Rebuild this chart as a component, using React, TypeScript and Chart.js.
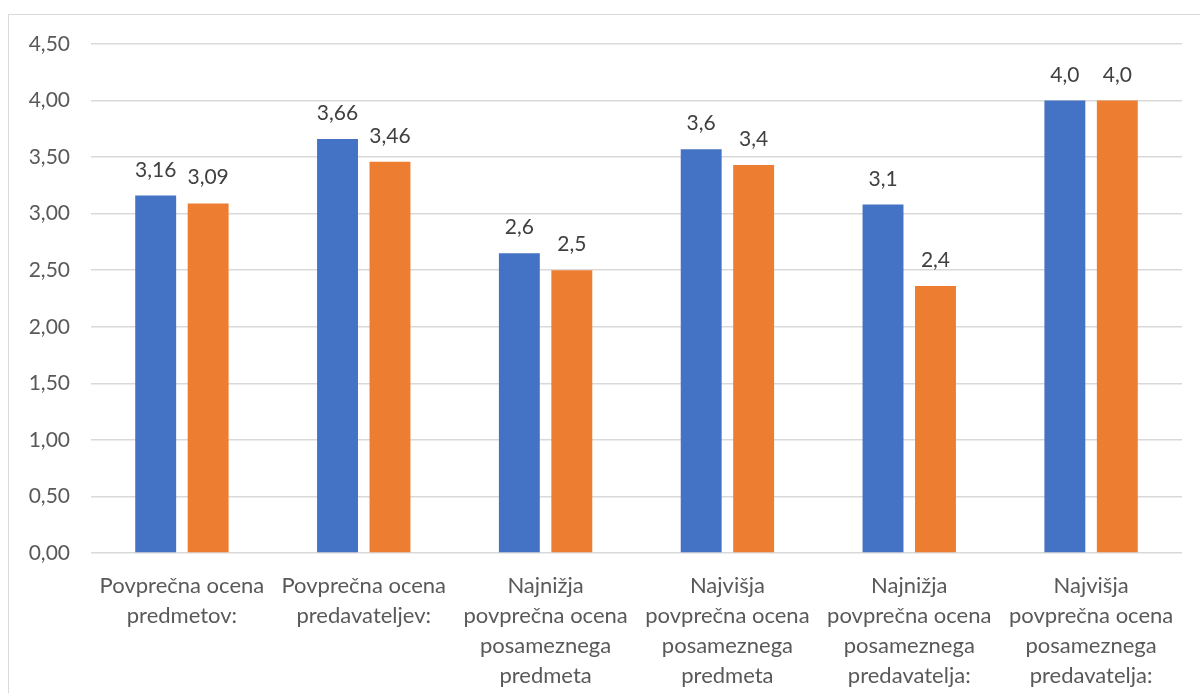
import { useEffect, useRef } from "react"
import Chart from "chart.js/auto"

const categories = [
  ["Povprečna ocena", "predmetov:"],
  ["Povprečna ocena", "predavateljev:"],
  ["Najnižja", "povprečna ocena", "posameznega", "predmeta"],
  ["Najvišja", "povprečna ocena", "posameznega", "predmeta"],
  ["Najnižja", "povprečna ocena", "posameznega", "predavatelja:"],
  ["Najvišja", "povprečna ocena", "posameznega", "predavatelja:"],
]

const seriesA = [3.16, 3.66, 2.65, 3.57, 3.08, 4.0]
const seriesB = [3.09, 3.46, 2.5, 3.43, 2.36, 4.0]

const labelsA = ["3,16", "3,66", "2,6", "3,6", "3,1", "4,0"]
const labelsB = ["3,09", "3,46", "2,5", "3,4", "2,4", "4,0"]

const FONT = "Lato, 'Noto Sans', sans-serif"

const barLabels = {
  id: "barLabels",
  afterDatasetsDraw(chart: any) {
    const ctx = chart.ctx
    ctx.save()
    ctx.font = `21px ${FONT}`
    ctx.fillStyle = "#404040"
    ctx.textAlign = "center"
    ctx.textBaseline = "alphabetic"
    chart.data.datasets.forEach((ds: any, i: number) => {
      const meta = chart.getDatasetMeta(i)
      meta.data.forEach((bar: any, j: number) => {
        ctx.fillText(ds.valueLabels[j], bar.x, bar.y - 19)
      })
    })
    ctx.restore()
  },
}

export default function App() {
  const chartRef = useRef<HTMLCanvasElement>(null)
  const chartInstance = useRef<Chart | null>(null)

  useEffect(() => {
    document.body.style.margin = "0"
    if (!chartRef.current) return
    if (chartInstance.current) chartInstance.current.destroy()

    chartInstance.current = new Chart(chartRef.current, {
      type: "bar",
      data: {
        labels: categories,
        datasets: [
          {
            label: "A",
            data: seriesA,
            backgroundColor: "#4472C4",
            valueLabels: labelsA,
            categoryPercentage: 0.577,
            barPercentage: 0.78,
          } as any,
          {
            label: "B",
            data: seriesB,
            backgroundColor: "#ED7D31",
            valueLabels: labelsB,
            categoryPercentage: 0.577,
            barPercentage: 0.78,
          } as any,
        ],
      },
      options: {
        animation: false,
        responsive: false,
        maintainAspectRatio: false,
        layout: { padding: { top: 44, right: 18, left: 0, bottom: 0 } },
        plugins: {
          legend: { display: false },
          tooltip: { enabled: false },
        },
        scales: {
          x: {
            grid: { display: false },
            border: { display: false },
            ticks: {
              color: "#595959",
              font: { family: FONT, size: 22, lineHeight: 1.36 },
              maxRotation: 0,
              autoSkip: false,
              padding: 10,
            },
            afterFit(scale: any) {
              scale.height = 140
            },
          },
          y: {
            min: 0,
            max: 4.5,
            grid: { color: "#d9d9d9", lineWidth: 1.5, drawTicks: false },
            border: { display: false },
            ticks: {
              stepSize: 0.5,
              color: "#595959",
              font: { family: FONT, size: 21 },
              padding: 21,
              callback: (v: any) => Number(v).toFixed(2).replace(".", ","),
            },
            afterFit(scale: any) {
              scale.width = 91
            },
          },
        },
      },
      plugins: [barLabels],
    })

    return () => {
      if (chartInstance.current) chartInstance.current.destroy()
    }
  }, [])

  return (
    <div style={{ position: "relative", width: 1200, height: 693, overflow: "hidden", background: "#fff" }}>
      <div
        style={{
          position: "absolute",
          left: 8,
          top: 14,
          width: 1300,
          height: 800,
          border: "1.5px solid #d9d9d9",
        }}
      />
      <canvas ref={chartRef} width={1200} height={693} style={{ position: "absolute", left: 0, top: 0 }} />
    </div>
  )
}
